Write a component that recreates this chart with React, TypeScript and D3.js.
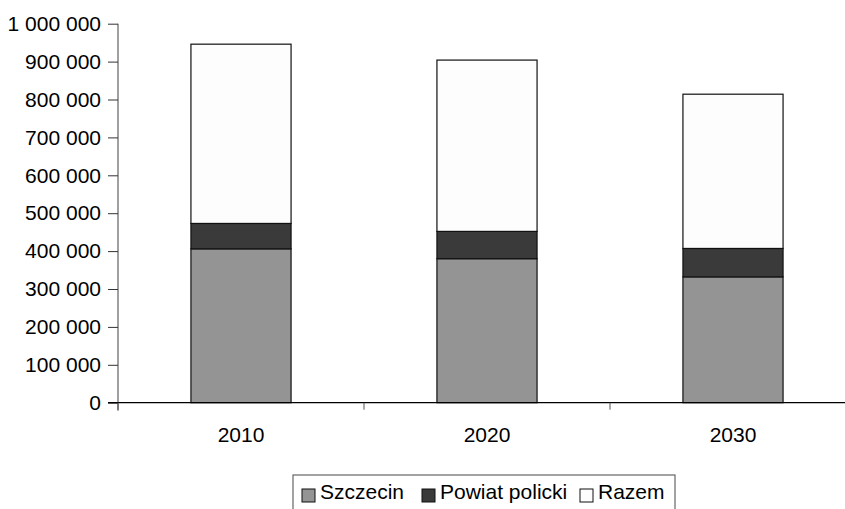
import React, { useRef, useEffect } from 'react';
import * as d3 from 'd3';

const years = ['2010', '2020', '2030'];
const szczecin = [406000, 380000, 332000];
const powiat = [67000, 72000, 75000];
const razem = [473000, 452000, 407000];
const seriesNames = ['Szczecin', 'Powiat policki', 'Razem'];
const seriesColors = ['#949494', '#3a3a3a', '#fdfdfd'];
const yTicks = [0, 100000, 200000, 300000, 400000, 500000, 600000, 700000, 800000, 900000, 1000000];

const W = 845;
const H = 509;
const FONT = '"Liberation Sans", Arial, sans-serif';
const FS = 21;

export default function App() {
  const ref = useRef<SVGSVGElement>(null);

  useEffect(() => {
    const svg = d3.select(ref.current);
    svg.selectAll('*').remove();

    const left = 118;
    const step = 246;
    const x = d3
      .scaleBand()
      .domain(years)
      .range([left, left + step * years.length])
      .paddingInner(0.593)
      .paddingOuter(0.2965);

    const y = d3.scaleLinear().domain([0, 1000000]).range([402.7, 23.7]);

    const locale = d3.formatLocale({ decimal: ',', thousands: ' ', grouping: [3], currency: ['', ''] });
    const fmt = locale.format(',');

    const rows = years.map((yr, i) => ({
      year: yr,
      Szczecin: szczecin[i],
      'Powiat policki': powiat[i],
      Razem: razem[i],
    }));
    const stack = d3.stack<any>().keys(seriesNames)(rows);

    // bars
    stack.forEach((layer, k) => {
      svg
        .append('g')
        .selectAll('rect')
        .data(layer)
        .enter()
        .append('rect')
        .attr('x', (d: any) => x(d.data.year)!)
        .attr('y', (d) => y(d[1]))
        .attr('width', x.bandwidth())
        .attr('height', (d) => y(d[0]) - y(d[1]))
        .attr('fill', seriesColors[k])
        .attr('stroke', '#111')
        .attr('stroke-width', 1.2);
    });

    // y axis
    const yAxis = svg
      .append('g')
      .attr('transform', `translate(${left},0)`)
      .call(d3.axisLeft(y).tickValues(yTicks).tickSize(10).tickPadding(7).tickFormat((d) => fmt(d as number)));
    yAxis.select('.domain').attr('stroke', '#808080').attr('stroke-width', 1.5).attr('d', `M0,${y(1000000)}V${y(0) + 8}`);
    yAxis.selectAll('.tick line').attr('stroke', '#333');
    yAxis.selectAll('text').attr('font-family', FONT).attr('font-size', FS).attr('fill', '#000');

    // x axis
    const xg = svg.append('g').attr('transform', `translate(0,${y(0)})`);
    xg.append('line').attr('x1', left - 10).attr('x2', W).attr('stroke', '#000').attr('stroke-width', 1.2);
    xg.selectAll('line.tk')
      .data(years)
      .enter()
      .append('line')
      .attr('class', 'tk')
      .attr('x1', (d) => x(d)! - (x.step() - x.bandwidth()) / 2)
      .attr('x2', (d) => x(d)! - (x.step() - x.bandwidth()) / 2)
      .attr('y1', 0)
      .attr('y2', 7)
      .attr('stroke', '#555');
    xg.selectAll('text')
      .data(years)
      .enter()
      .append('text')
      .attr('x', (d) => x(d)! + x.bandwidth() / 2)
      .attr('y', 39)
      .attr('text-anchor', 'middle')
      .attr('font-family', FONT)
      .attr('font-size', FS)
      .text((d) => d);

    // legend
    const lg = svg.append('g');
    lg.append('rect')
      .attr('x', 293)
      .attr('y', 475)
      .attr('width', 382)
      .attr('height', 50)
      .attr('fill', '#fff')
      .attr('stroke', '#666')
      .attr('stroke-width', 1.2);
    const itemX = [302, 422, 580];
    seriesNames.forEach((name, k) => {
      lg.append('rect')
        .attr('x', itemX[k])
        .attr('y', 489)
        .attr('width', 13)
        .attr('height', 13)
        .attr('fill', seriesColors[k])
        .attr('stroke', '#111');
      lg.append('text')
        .attr('x', itemX[k] + 18)
        .attr('y', 499)
        .attr('font-family', FONT)
        .attr('font-size', FS)
        .text(name);
    });
  }, []);

  return (
    <svg
      ref={ref}
      width={W}
      height={H}
      style={{ position: 'absolute', left: 0, top: 0, background: '#fff' }}
    />
  );
}
